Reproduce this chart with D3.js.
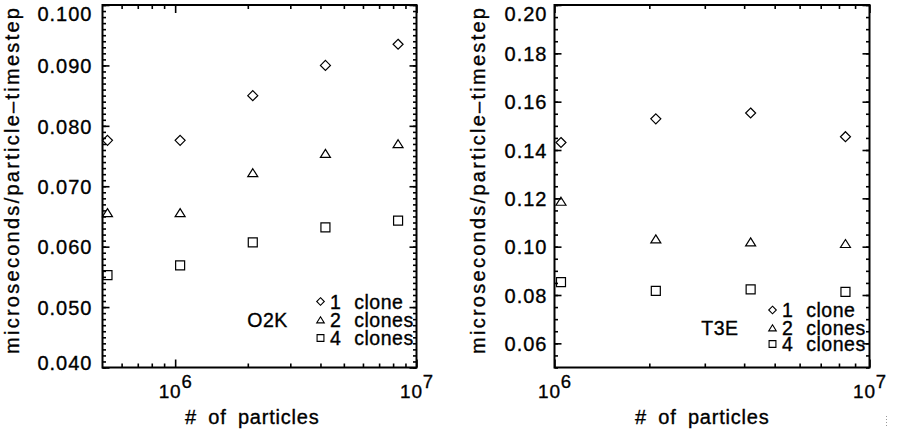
<!DOCTYPE html>
<html>
<head>
<meta charset="utf-8">
<title>O2K / T3E timing</title>
<style>
  body { margin: 0; background: #fff; }
  svg text { font-family: "Liberation Sans", Arial, sans-serif; fill: #000;
             stroke: #000; stroke-width: 0.35px; }
  .domain { display: none; }
  .tick line { stroke: #000; stroke-width: 1.6; }
</style>
<script src="https://cdnjs.cloudflare.com/ajax/libs/d3/7.8.5/d3.min.js"></script>
</head>
<body>
<svg id="chart" width="901" height="435"></svg>
<script>
// data
var particlesO2K = [524288, 1048576, 2097152, 4194304, 8388608];
var o2kOne  = [0.0776, 0.0776, 0.0850, 0.0900, 0.0935];
var o2kTwo  = [0.0656, 0.0656, 0.0722, 0.0754, 0.0770];
var o2kFour = [0.0553, 0.0569, 0.0607, 0.0632, 0.0643];

var particlesT3E = [1048576, 2097152, 4194304, 8388608];
var t3eOne  = [0.1431, 0.1529, 0.1553, 0.1455];
var t3eTwo  = [0.1187, 0.1031, 0.1019, 0.1012];
var t3eFour = [0.0853, 0.0817, 0.0823, 0.0813];

var seriesNames = ['1 clone', '2 clones', '4 clones'];
var shapes = ['diamond', 'triangle', 'square'];

var o2kYTicks = [0.040, 0.050, 0.060, 0.070, 0.080, 0.090, 0.100];
var t3eYTicks = [0.06, 0.08, 0.10, 0.12, 0.14, 0.16, 0.18, 0.20];

var svg = d3.select('#chart');

function shapePath(type, r) {
  if (type == 'diamond') return 'M0,' + (-r) + 'L' + r + ',0L0,' + r + 'L' + (-r) + ',0Z';
  if (type == 'triangle') return 'M0,' + (-r * 0.85) + 'L' + r + ',' + (r * 0.75) + 'L' + (-r) + ',' + (r * 0.75) + 'Z';
  var s = r * 0.9;
  return 'M' + (-s) + ',' + (-s) + 'H' + s + 'V' + s + 'H' + (-s) + 'Z';
}

function panel(opt) {
  var g = svg.append('g');
  var x = d3.scaleLog().domain(opt.xDomain).range([opt.left, opt.right]);
  var y = d3.scaleLinear().domain(opt.yDomain).range([opt.bottom, opt.top]);

  // minor ticks
  var xMinor = [];
  for (var e = 5; e <= 6; e++) {
    for (var m = 2; m <= 9; m++) {
      var v = m * Math.pow(10, e);
      if (v > opt.xDomain[0] && v < opt.xDomain[1]) xMinor.push(v);
    }
  }
  var yMinor = d3.range(opt.yDomain[0], opt.yDomain[1] + 1e-9, opt.yMinorStep);
  var xMajor = [1e6, 1e7];

  g.append('g').attr('transform', 'translate(0,' + opt.bottom + ')')
    .call(d3.axisBottom(x).tickValues(xMinor).tickSize(-4).tickFormat(''));
  g.append('g').attr('transform', 'translate(0,' + opt.top + ')')
    .call(d3.axisTop(x).tickValues(xMinor).tickSize(-4).tickFormat(''));
  g.append('g').attr('transform', 'translate(0,' + opt.top + ')')
    .call(d3.axisTop(x).tickValues(xMajor).tickSize(-8).tickFormat(''));
  g.append('g').attr('transform', 'translate(' + opt.left + ',0)')
    .call(d3.axisLeft(y).tickValues(yMinor).tickSize(-3.5).tickFormat(''));
  g.append('g').attr('transform', 'translate(' + opt.right + ',0)')
    .call(d3.axisRight(y).tickValues(yMinor).tickSize(-3.5).tickFormat(''));
  g.append('g').attr('transform', 'translate(' + opt.right + ',0)')
    .call(d3.axisRight(y).tickValues(opt.yTicks).tickSize(-7).tickFormat(''));

  var ya = g.append('g').attr('transform', 'translate(' + opt.left + ',0)')
    .call(d3.axisLeft(y).tickValues(opt.yTicks).tickSize(-7).tickPadding(opt.yPad).tickFormat(d3.format(opt.yFormat)));
  // end labels are kept inside the frame height, as in the original
  ya.selectAll('.tick text').style('font-size', '20px').style('letter-spacing', '1px')
    .attr('dy', '0.36em')
    .attr('y', function(d) {
      var p = y(d);
      return Math.min(Math.max(p, opt.top + 8), opt.bottom - 5) - p;
    });

  var xa = g.append('g').attr('transform', 'translate(0,' + opt.bottom + ')')
    .call(d3.axisBottom(x).tickValues(xMajor).tickSize(-8).tickFormat(''));
  xa.selectAll('.tick text').each(function(d) {
    var t = d3.select(this).attr('dy', null).attr('y', 30.5).attr('x', 0)
      .attr('text-anchor', 'middle')
      .style('font-size', '19px').style('letter-spacing', '0.8px');
    t.append('tspan').text('10');
    t.append('tspan').attr('dy', -10).style('font-size', '18.5px').text(Math.round(Math.log10(d)));
  });

  // frame
  g.append('rect').attr('x', opt.left).attr('y', opt.top)
    .attr('width', opt.right - opt.left).attr('height', opt.bottom - opt.top)
    .attr('fill', 'none').attr('stroke', '#000').attr('stroke-width', 2);

  // points
  opt.series.forEach(function(vals, i) {
    g.append('g').selectAll('path').data(vals).enter().append('path')
      .attr('transform', function(d, j) { return 'translate(' + x(opt.xs[j]) + ',' + y(d) + ')'; })
      .attr('d', shapePath(shapes[i], 5))
      .attr('fill', 'none').attr('stroke', '#000').attr('stroke-width', 1.2);
  });

  // legend
  seriesNames.forEach(function(name, i) {
    var ly = opt.legendY[i];
    g.append('path').attr('transform', 'translate(' + opt.legendX + ',' + ly + ')')
      .attr('d', shapePath(shapes[i], 3.8))
      .attr('fill', 'none').attr('stroke', '#000').attr('stroke-width', 1.1);
    g.append('text').attr('x', opt.legendX + 9.5).attr('y', ly + 7)
      .style('font-size', '19.5px').style('letter-spacing', '0.5px').style('word-spacing', '7px')
      .text(name);
  });
  g.append('text').attr('x', opt.labelX).attr('y', opt.labelY + 7)
    .attr('text-anchor', 'middle').style('font-size', '19.5px').style('letter-spacing', '0.5px')
    .text(opt.label);

  // axis titles
  g.append('text').attr('x', opt.xTitleX).attr('y', 424)
    .style('font-size', '20px').style('letter-spacing', '0.8px')
    .style('word-spacing', '5px')
    .text('# of particles');
  g.append('text').attr('transform', 'translate(' + opt.titleX + ',181) rotate(-90)')
    .attr('text-anchor', 'middle').style('font-size', '20px')
    .attr('textLength', 346).attr('lengthAdjust', 'spacing')
    .text('microseconds/particle\u2013timestep');
}

panel({
  left: 102.5, right: 416.5, top: 5, bottom: 367.5,
  xDomain: [5e5, 1e7], yDomain: [0.040, 0.100], yTicks: o2kYTicks, yMinorStep: 0.001,
  yFormat: '.3f', yPad: 10,
  xs: particlesO2K, series: [o2kOne, o2kTwo, o2kFour],
  legendX: 320.5, legendY: [301.5, 320, 338], label: 'O2K', labelX: 267.5, labelY: 320,
  titleX: 18.5, xTitleX: 185
});

panel({
  left: 554.5, right: 869.5, top: 5, bottom: 367.5,
  xDomain: [1e6, 1e7], yDomain: [0.05, 0.20], yTicks: t3eYTicks, yMinorStep: 0.005,
  yFormat: '.2f', yPad: 7,
  xs: particlesT3E, series: [t3eOne, t3eTwo, t3eFour],
  legendX: 772.5, legendY: [310, 328, 344], label: 'T3E', labelX: 720, labelY: 328,
  titleX: 485, xTitleX: 635
});

// small dotted mark at the bottom right edge of the picture
svg.append('line').attr('x1', 886.5).attr('x2', 886.5).attr('y1', 416).attr('y2', 427)
  .attr('stroke', '#999').attr('stroke-width', 1).attr('stroke-dasharray', '1,2');
</script>
</body>
</html>
